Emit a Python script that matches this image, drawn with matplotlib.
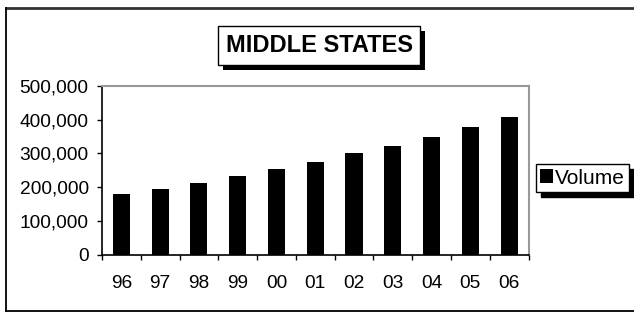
import matplotlib
matplotlib.use("Agg")
from matplotlib import pyplot as plt
from matplotlib.lines import Line2D
from matplotlib.patches import Rectangle
from matplotlib.transforms import IdentityTransform
from matplotlib.ticker import FuncFormatter

# data
years = ["96", "97", "98", "99", "00", "01", "02", "03", "04", "05", "06"]
volume = [180000, 194000, 212000, 234000, 253000, 273000, 302000, 323000, 349000, 377000, 407000]
title = "MIDDLE STATES"
series_name = "Volume"

plt.rcParams["font.family"] = ["Liberation Sans", "DejaVu Sans"]

W, H = 634, 312
fig = plt.figure(figsize=(W / 100, H / 100), dpi=100)

# outer frame (right side runs off the picture)
fig.add_artist(Line2D([6 / W, 1], [1 - 8 / H, 1 - 8 / H], color="#333333", lw=2, transform=fig.transFigure))
fig.add_artist(Line2D([6 / W, 6 / W], [1 - 8 / H, 1 - 311 / H], color="black", lw=1.3, transform=fig.transFigure))
fig.add_artist(Line2D([6 / W, 1], [1 - 311 / H, 1 - 311 / H], color="black", lw=1.3, transform=fig.transFigure))

ax = fig.add_axes([102 / W, 1 - 254.5 / H, (528.5 - 102) / W, (254.5 - 86) / H])
x = list(range(len(years)))
bars = ax.bar(x, volume, width=0.44, color="black", label=series_name)

ax.set_xlim(-0.5, len(years) - 0.5)
ax.set_ylim(0, 500000)
ax.set_yticks(range(0, 500001, 100000))
ax.yaxis.set_major_formatter(FuncFormatter(lambda v, p: f"{int(v):,}"))
ax.tick_params(axis="y", direction="out", length=5 * 0.72, width=1, labelsize=13.8, pad=6, colors="black")

# ticks between categories, labels at centres
ax.set_xticks([i - 0.5 for i in range(len(years) + 1)])
ax.set_xticklabels([])
ax.set_xticks(x, minor=True)
ax.set_xticklabels(years, minor=True)
ax.tick_params(axis="x", which="major", direction="out", length=5 * 0.72, width=1)
ax.tick_params(axis="x", which="minor", length=0, labelsize=13.8, pad=15)

for s in ["left", "bottom"]:
    ax.spines[s].set_color("black")
    ax.spines[s].set_linewidth(1.2)
for s in ["top", "right"]:
    ax.spines[s].set_color("#999999")
    ax.spines[s].set_linewidth(1.5)

# title box, black drop shadow added after layout
t = fig.text(319 / W, 1 - 45.5 / H, title, fontsize=17, fontweight="bold", color="black",
             ha="center", va="center", zorder=5,
             bbox=dict(boxstyle="square,pad=0.32", fc="white", ec="black", lw=1))

leg = ax.legend(loc="center left", bbox_to_anchor=(536 / W, 1 - 178 / H), bbox_transform=fig.transFigure,
                fontsize=15, frameon=True, fancybox=False, borderpad=0.2, borderaxespad=0,
                handlelength=0.6, handleheight=0.65, handletextpad=0.1,
                shadow={"color": "black", "alpha": 1, "ox": 3.6, "oy": -3.6})
leg.get_frame().set_edgecolor("black")
leg.get_frame().set_linewidth(1)

fig.canvas.draw()
bb = t.get_bbox_patch().get_window_extent()
fig.add_artist(Rectangle((bb.x0 + 5, bb.y0 - 5), bb.width, bb.height, fc="black", ec="none",
                         transform=IdentityTransform(), zorder=4))

fig.savefig("out.png", dpi=100)
